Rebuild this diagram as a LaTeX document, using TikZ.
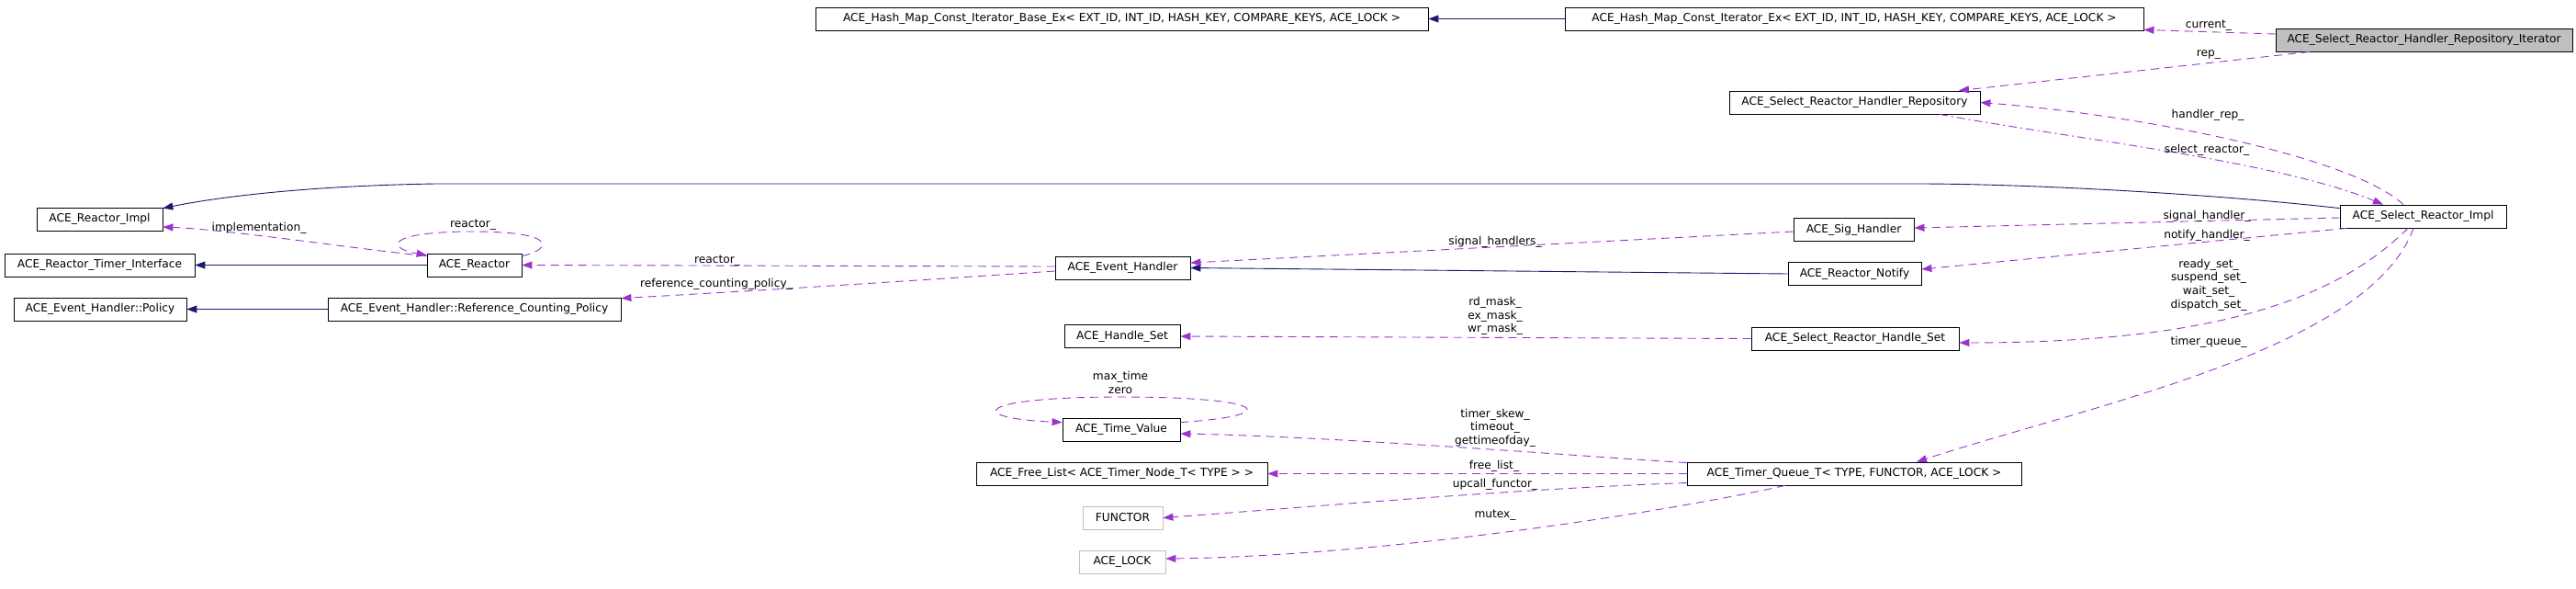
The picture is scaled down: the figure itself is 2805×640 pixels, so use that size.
\documentclass[tikz,border=0pt]{standalone}
\usepackage{fontspec}
\setmainfont{DejaVu Sans}
\usetikzlibrary{arrows.meta}
\definecolor{inhblue}{HTML}{191970}
\definecolor{usepurple}{HTML}{9A32CD}
\definecolor{boxgray}{HTML}{BFBFBF}
\newcommand{\dfont}{\fontsize{12.2}{14.6}\selectfont}
\tikzset{
  cls/.style={draw=black, line width=0.8pt, minimum height=25pt, inner sep=0pt, font=\dfont},
  ghost/.style={cls, draw=boxgray},
  cur/.style={cls, fill=boxgray},
  lbl/.style={inner sep=0pt, font=\dfont, align=center},
  inh/.style={draw=inhblue, line width=0.9pt, -{Triangle[length=11pt,width=8pt]}},
  use/.style={draw=usepurple, line width=0.9pt, dash pattern=on 9pt off 6pt, -{Triangle[length=11pt,width=8pt,fill=usepurple]}},
  usedot/.style={use, dash pattern=on 9pt off 4pt on 2pt off 4pt}
}
\begin{document}
\begin{tikzpicture}[x=1pt,y=-1pt]
\useasboundingbox (0,0) rectangle (2805,640);
% nodes
\node[cls, minimum width=667pt] (hashbase) at (1221.5,20.5) {ACE\_Hash\_Map\_Const\_Iterator\_Base\_Ex< EXT\_ID, INT\_ID, HASH\_KEY, COMPARE\_KEYS, ACE\_LOCK >};
\node[cls, minimum width=630pt] (hashex) at (2019,20.5) {ACE\_Hash\_Map\_Const\_Iterator\_Ex< EXT\_ID, INT\_ID, HASH\_KEY, COMPARE\_KEYS, ACE\_LOCK >};
\node[cur, minimum width=323pt] (iter) at (2639.5,43.5) {ACE\_Select\_Reactor\_Handler\_Repository\_Iterator};
\node[cls, minimum width=273pt] (repo) at (2019.5,111.5) {ACE\_Select\_Reactor\_Handler\_Repository};
\node[cls, minimum width=181pt] (impl) at (2638.5,235.5) {ACE\_Select\_Reactor\_Impl};
\node[cls, minimum width=131pt] (sig) at (2018.5,250) {ACE\_Sig\_Handler};
\node[cls, minimum width=145pt] (notify) at (2019.5,298) {ACE\_Reactor\_Notify};
\node[cls, minimum width=147pt] (evh) at (1222.5,291.5) {ACE\_Event\_Handler};
\node[cls, minimum width=137pt] (reactimpl) at (108.5,238.5) {ACE\_Reactor\_Impl};
\node[cls, minimum width=207pt] (timerif) at (108.5,288.5) {ACE\_Reactor\_Timer\_Interface};
\node[cls, minimum width=103pt] (reactor) at (516.5,288.5) {ACE\_Reactor};
\node[cls, minimum width=188pt] (policy) at (109,336.5) {ACE\_Event\_Handler::Policy};
\node[cls, minimum width=319pt] (refpol) at (516.5,336.5) {ACE\_Event\_Handler::Reference\_Counting\_Policy};
\node[cls, minimum width=126pt] (handleset) at (1222,366) {ACE\_Handle\_Set};
\node[cls, minimum width=226pt] (srhs) at (2020,368.5) {ACE\_Select\_Reactor\_Handle\_Set};
\node[cls, minimum width=128pt] (timeval) at (1221,467.5) {ACE\_Time\_Value};
\node[cls, minimum width=317pt] (freelist) at (1221.5,515.5) {ACE\_Free\_List< ACE\_Timer\_Node\_T< TYPE > >};
\node[cls, minimum width=364pt] (tq) at (2019,515.5) {ACE\_Timer\_Queue\_T< TYPE, FUNCTOR, ACE\_LOCK >};
\node[ghost, minimum width=87pt] (functor) at (1222.5,563.5) {FUNCTOR};
\node[ghost, minimum width=94pt] (lock) at (1222,611.5) {ACE\_LOCK};
% inheritance
\draw[inh] (hashex.west) -- (hashbase.east);
\draw[inh] ([yshift=-4pt]impl.north west) .. controls (2400,210) and (2200,200) .. (2088,200) -- (474,200) .. controls (350,202) and (250,212) .. ([yshift=-1pt]reactimpl.north east);
\draw[inh] (reactor.west) -- (timerif.east);
\draw[inh] (notify.west) -- (evh.east);
\draw[inh] (refpol.west) -- (policy.east);
% usage
\draw[use] ([yshift=6.5pt]iter.west) -- ([yshift=1pt]hashex.south east);
\draw[use] ([xshift=-124.5pt]iter.south) -- ([xshift=113.5pt]repo.north);
\draw[use] ([xshift=-21.5pt]impl.north) .. controls (2560,170) and (2330,125) .. (repo.east);
\draw[usedot] ([xshift=92.5pt]repo.south) .. controls (2250,150) and (2480,175) .. ([xshift=-43.5pt]impl.north);
\draw[use] ([yshift=-1.5pt]impl.west) -- ([yshift=2pt]sig.east);
\draw[use] ([xshift=8pt]impl.south west) -- ([yshift=5pt]notify.east);
\draw[use] ([xshift=-16.5pt]impl.south) .. controls (2540,330) and (2400,373) .. ([yshift=-4.5pt]srhs.east);
\draw[use] ([xshift=-10.5pt]impl.south) .. controls (2580,380) and (2280,440) .. ([xshift=68pt]tq.north);
\draw[use] ([yshift=-2pt]sig.west) -- ([yshift=5.5pt]evh.east);
\draw[use] ([yshift=1.5pt]evh.west) -- (reactor.east);
\draw[use] ([yshift=-3.5pt]evh.west) .. controls (1000,305) and (850,315) .. ([yshift=-1pt]refpol.north east);
\draw[use] ([yshift=-3pt]reactor.north west) .. controls (380,270) and (250,250) .. ([yshift=-8.5pt]reactimpl.east);
\draw[use] ([yshift=-3pt]reactor.north east) .. controls (600,272) and (610,252) .. (515,252) .. controls (420,252) and (420,270) .. ([yshift=-2pt]reactor.north west);
\draw[use] (srhs.west) -- (handleset.east);
\draw[use] ([yshift=-5pt]timeval.north east) .. controls (1400,452) and (1380,432) .. (1220,432) .. controls (1060,432) and (1050,455) .. ([yshift=-5pt]timeval.north west);
\draw[use] ([yshift=-1pt]tq.north west) .. controls (1700,495) and (1450,475) .. ([yshift=-4.5pt]timeval.east);
\draw[use] (tq.west) -- (freelist.east);
\draw[use] ([yshift=-10pt]tq.west) .. controls (1650,532) and (1450,550) .. (functor.east);
\draw[use] ([xshift=-75pt]tq.south) .. controls (1800,560) and (1500,605) .. ([yshift=3.5pt]lock.east);
% labels
\node[lbl] (lcur) at (2405,28) {current\_};
\node[lbl] (lrep) at (2405,60) {rep\_};
\node[lbl] (lhrep) at (2404,125) {handler\_rep\_};
\node[lbl] (lsel) at (2403,163) {select\_reactor\_};
\node[lbl] (lsig) at (2403,235) {signal\_handler\_};
\node[lbl] (lnot) at (2403,256) {notify\_handler\_};
\node[lbl] (lsets) at (2405,310) {ready\_set\_\\suspend\_set\_\\wait\_set\_\\dispatch\_set\_};
\node[lbl] (ltq) at (2405,372) {timer\_queue\_};
\node[lbl] (limp) at (282,248) {implementation\_};
\node[lbl] (lloop) at (515,245) {reactor\_};
\node[lbl] (lreact) at (781,284) {reactor\_};
\node[lbl] (lref) at (780,309) {reference\_counting\_policy\_};
\node[lbl] (lsigs) at (1628,263) {signal\_handlers\_};
\node[lbl] (lmask) at (1628,344) {rd\_mask\_\\ex\_mask\_\\wr\_mask\_};
\node[lbl] (ltime) at (1220,416.5) {max\_time\\zero};
\node[lbl] (lskew) at (1628,465.5) {timer\_skew\_\\timeout\_\\gettimeofday\_};
\node[lbl] (lfree) at (1627,507) {free\_list\_};
\node[lbl] (lup) at (1628,527) {upcall\_functor\_};
\node[lbl] (lmut) at (1628,561) {mutex\_};
\end{tikzpicture}
\end{document}
